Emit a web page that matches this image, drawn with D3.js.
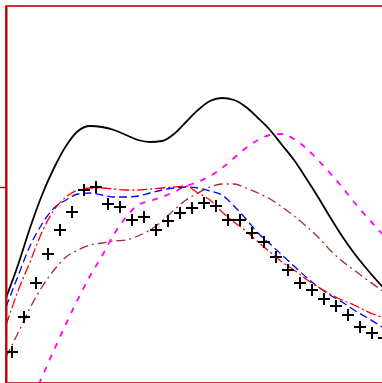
<!DOCTYPE html>
<html>
<head>
<meta charset="utf-8">
<script src="https://cdn.jsdelivr.net/npm/d3@7"></script>
<style>
  body { margin: 0; background: #fff; }
  svg { display: block; }
</style>
</head>
<body>
<script>
// sample positions along x (curves) and the measured points (crosses)
var curveX = [0.5, 1.5, 2.5, 3.5, 4.5, 5.5, 6.5, 7.5, 8.5, 9.5, 10.5, 11.5, 12.5, 13.5, 14.5, 15.5,
              16.5, 17.5, 18.5, 19.5, 20.5, 21.5, 22.5, 23.5, 24.5, 25.5, 26.5, 27.5, 28.5, 29.5, 30.5, 32.5];
var pointX = d3.range(1, 33);

var points = [-165, -130, -96, -67, -43, -25, -3, 0, -17, -20, -33, -30, -43, -34, -26, -21,
              -16, -19, -33, -33, -46, -55, -70, -83, -96, -103, -112, -119, -128, -140, -146, -151];

var blackSeries = [-111, -78, -41, -8, 19, 41, 56, 61, 60, 57, 52, 47, 45, 46, 53, 65,
                   77, 86, 89, 87, 80, 69, 57, 42, 27, 9, -10, -30, -49, -66, -81, -108];
var redSeries = [-138, -104, -75, -45, -23, -10, -3, -1, -1, -2, -3, -3, -2, -1, 0, 1,
                 -6, -13, -25, -35, -44, -55, -65, -75, -83, -92, -100, -107, -113, -118, -124, -133];
var blueSeries = [-120, -89, -59, -37, -21, -13, -7, -6, -8, -10, -10, -9, -6, -3, -1, 0,
                  -1, -4, -8, -19, -32, -46, -57, -68, -79, -90, -100, -108, -115, -123, -130, -145];
var magentaSeries = [-268, -243, -217, -190, -163, -137, -112, -89, -69, -47, -30, -18, -14, -10, -5, 1,
                     5, 11, 19, 29, 39, 47, 52, 53, 48, 39, 27, 14, 0, -15, -29, -55];
var brownSeries = [-170, -146, -121, -100, -83, -70, -63, -58, -56, -54, -53, -49, -43, -34, -23, -13,
                   -6, 0, 3, 3, -1, -6, -12, -20, -29, -39, -50, -63, -74, -83, -92, -109];

var yTicks = [0];

var width = 382, height = 383;
var marginLeft = 6, marginTop = 6;

var x = d3.scaleLinear().domain([0.5, 32.5]).range([marginLeft, 390]);
var y = d3.scaleLinear().domain([-196, 181]).range([383, marginTop]);

var svg = d3.select("body").append("svg")
    .attr("width", width)
    .attr("height", height);

svg.append("defs").append("clipPath")
    .attr("id", "plot")
  .append("rect")
    .attr("x", marginLeft)
    .attr("y", marginTop)
    .attr("width", 400)
    .attr("height", 383 - marginTop);

var series = [
  {values: blackSeries, color: "#000000", width: 1.8, dash: null},
  {values: brownSeries, color: "#a52a2a", width: 1.3, dash: "9,4,2,4"},
  {values: magentaSeries, color: "#ff00ff", width: 1.8, dash: "6,7"},
  {values: blueSeries, color: "#0000ff", width: 1.3, dash: "8,4"},
  {values: redSeries, color: "#ff0000", width: 1.3, dash: "10,3,2,3"}
];

var line = d3.line()
    .x(function(d, i) { return x(curveX[i]); })
    .y(function(d) { return y(d); })
    .curve(d3.curveMonotoneX);

var g = svg.append("g").attr("clip-path", "url(#plot)");

g.selectAll(".curve")
    .data(series)
    .enter().append("path")
    .attr("class", "curve")
    .attr("d", function(d) { return line(d.values); })
    .attr("fill", "none")
    .attr("stroke", function(d) { return d.color; })
    .attr("stroke-width", function(d) { return d.width; })
    .attr("stroke-dasharray", function(d) { return d.dash; });

// plus markers
g.selectAll(".pt")
    .data(points)
    .enter().append("path")
    .attr("class", "pt")
    .attr("transform", function(d, i) { return "translate(" + x(pointX[i]) + "," + y(d) + ")"; })
    .attr("d", "M-6,0H6M0,-6V6")
    .attr("stroke", "#000")
    .attr("stroke-width", 2)
    .attr("fill", "none");

// frame
svg.append("rect")
    .attr("x", marginLeft)
    .attr("y", marginTop)
    .attr("width", 420)
    .attr("height", 377)
    .attr("fill", "none")
    .attr("stroke", "#c00000")
    .attr("stroke-width", 1.6);

// left axis with its single tick
var yAxis = svg.append("g")
    .attr("transform", "translate(" + marginLeft + ",0)")
    .call(d3.axisLeft(y).tickValues(yTicks).tickFormat("").tickSize(6).tickSizeOuter(0));
yAxis.select(".domain").attr("stroke", "#c00000").attr("stroke-width", 2);
yAxis.selectAll(".tick line").attr("stroke", "#c00000").attr("stroke-width", 1.3);
</script>
</body>
</html>
